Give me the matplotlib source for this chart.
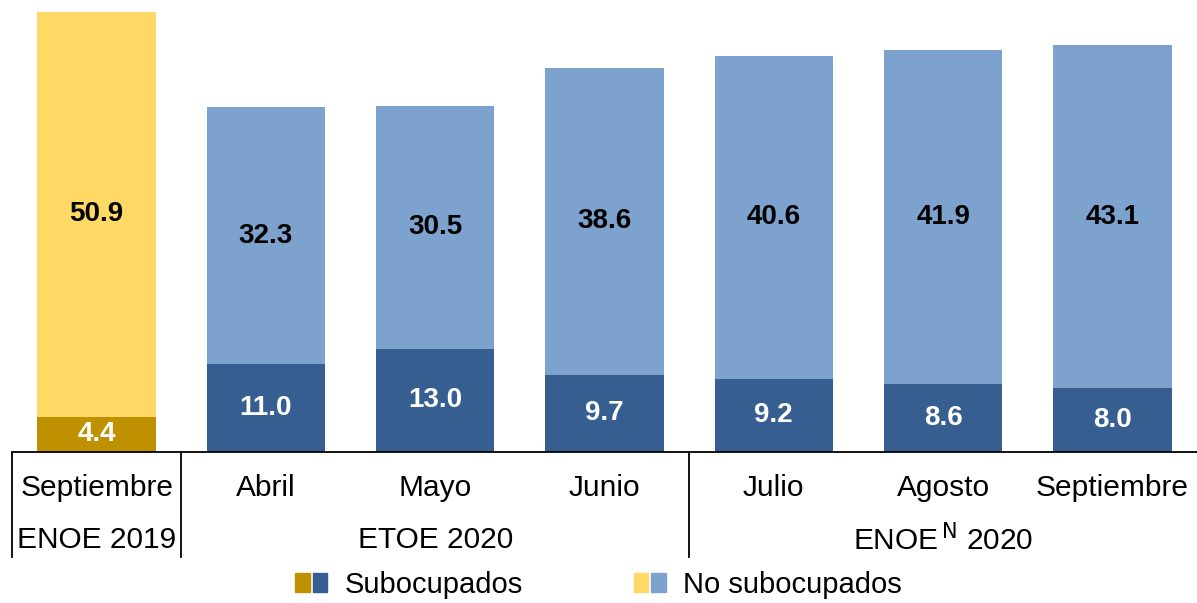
import matplotlib.pyplot as plt
from matplotlib.patches import Patch
from matplotlib.legend_handler import HandlerTuple

plt.rcParams['font.family'] = ['Liberation Sans', 'DejaVu Sans']

meses = ['Septiembre', 'Abril', 'Mayo', 'Junio', 'Julio', 'Agosto', 'Septiembre']
subocupados = [4.4, 11.0, 13.0, 9.7, 9.2, 8.6, 8.0]
no_subocupados = [50.9, 32.3, 30.5, 38.6, 40.6, 41.9, 43.1]
grupos = ['ENOE 2019', 'ETOE 2020', 'ENOE$^{\\,\\mathrm{N}}$ 2020']
grupo_centro = [0, 2, 5]
separadores = [-0.5, 0.5, 3.5]

c_sub = ['#BF9000'] + ['#375E91'] * 6
c_nosub = ['#FFD966'] + ['#7EA2CE'] * 6

fig = plt.figure(figsize=(11.97, 6.03), dpi=100)
ax = fig.add_axes([12 / 1197, 151 / 603, 1 - 12 / 1197, 440 / 603])

x = range(len(meses))
b1 = ax.bar(x, subocupados, width=0.7, color=c_sub)
b2 = ax.bar(x, no_subocupados, width=0.7, bottom=subocupados, color=c_nosub)

for i in x:
    ax.text(i, subocupados[i] / 2, f'{subocupados[i]:.1f}', ha='center', va='center',
            color='white', fontsize=20, fontweight='bold')
    ax.text(i, subocupados[i] + no_subocupados[i] / 2, f'{no_subocupados[i]:.1f}',
            ha='center', va='center', color='black', fontsize=20, fontweight='bold')
    ax.text(i, -0.082, meses[i], transform=ax.get_xaxis_transform(),
            ha='center', va='center', fontsize=21.5)

for g, c in zip(grupos, grupo_centro):
    ax.text(c, -0.2, g, transform=ax.get_xaxis_transform(),
            ha='center', va='center', fontsize=21.5)

for s in separadores:
    ax.plot([s, s], [0, -0.239], transform=ax.get_xaxis_transform(),
            color='black', lw=1.3, clip_on=False)

ax.set_xlim(-0.5, 6.5)
ax.set_ylim(0, 55.3)
for sp in ['top', 'right', 'left']:
    ax.spines[sp].set_visible(False)
ax.spines['bottom'].set_linewidth(1.3)
ax.set_xticks([])
ax.set_yticks([])

h1 = (Patch(color='#BF9000'), Patch(color='#375E91'))
h2 = (Patch(color='#FFD966'), Patch(color='#7EA2CE'))
fig.legend([h1, h2], ['Subocupados', 'No subocupados'],
           handler_map={tuple: HandlerTuple(ndivide=None, pad=0.1)},
           loc='center', bbox_to_anchor=(0.5, 1 - 585 / 603), ncol=2,
           frameon=False, fontsize=21, handlelength=1.1, handleheight=0.6,
           handletextpad=0.6, columnspacing=3.8)

fig.savefig('out.png', dpi=100)
